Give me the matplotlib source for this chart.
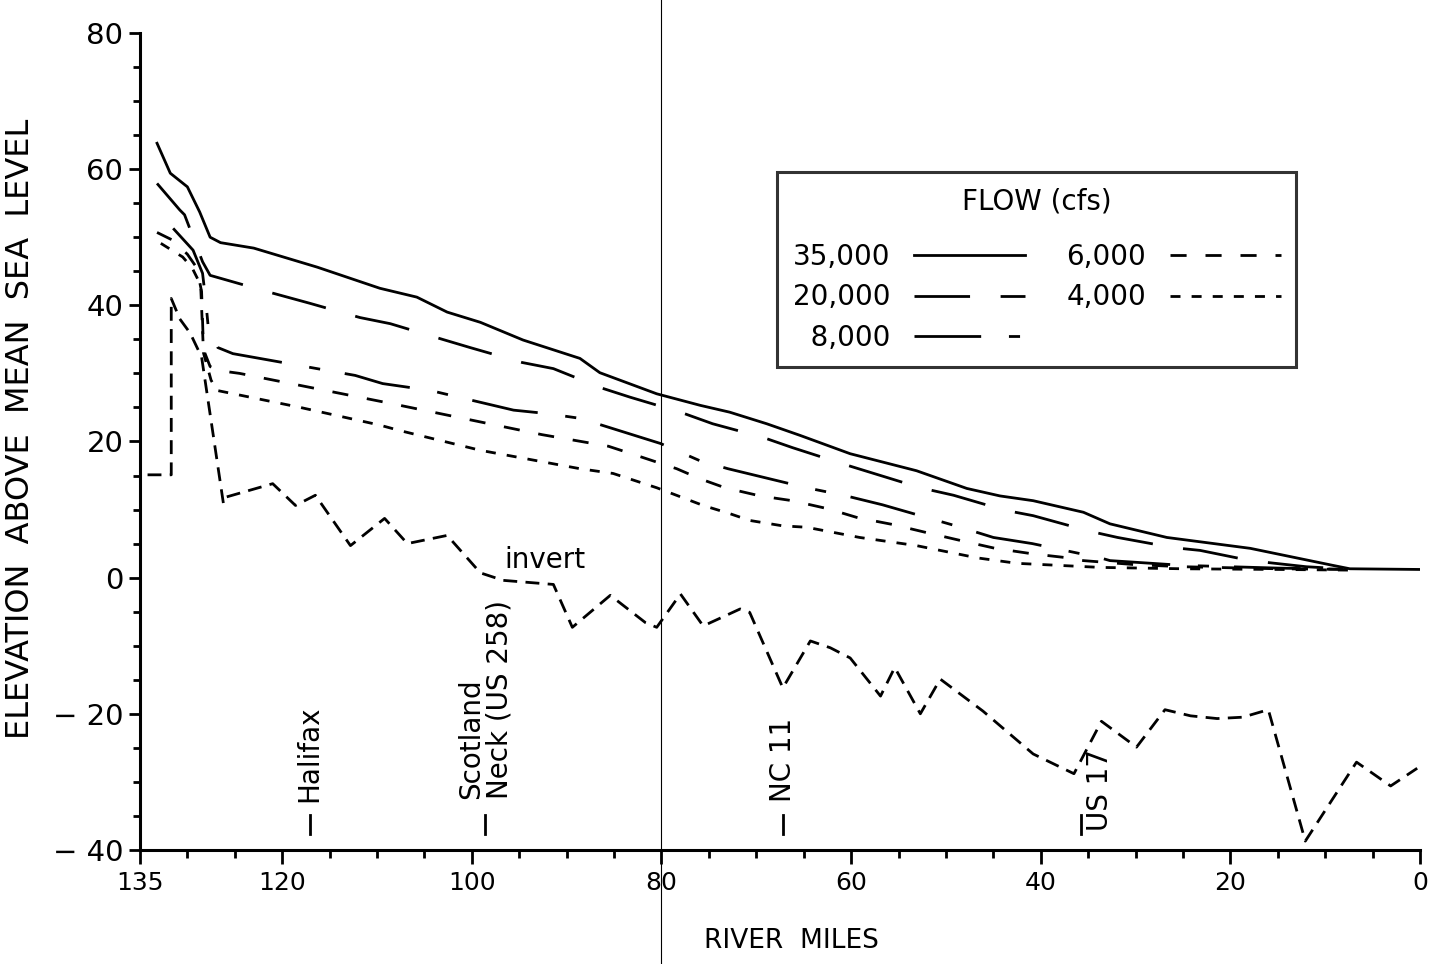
import matplotlib
matplotlib.use("Agg")
import matplotlib.pyplot as plt
from matplotlib.ticker import FixedLocator, MultipleLocator, FixedFormatter

plt.rcParams["font.family"] = ["DejaVu Sans"]

# water surface profiles, river miles vs elevation (ft above msl)
miles_35k = [133.2, 131.8, 130.0, 128.7, 127.6, 126.5, 123.0, 116.3, 109.7, 105.8, 102.6,
             99.1, 94.6, 88.6, 86.5, 80.5, 75.9, 72.8, 68.9, 65.4, 60.1, 53.1, 47.8, 44.3,
             40.8, 35.5, 32.7, 26.7, 17.9, 9.2, 7.4, 0.0]
elev_35k = [63.8, 59.4, 57.4, 53.7, 50.0, 49.2, 48.4, 45.6, 42.5, 41.2, 39.0,
            37.5, 34.9, 32.2, 30.1, 27.0, 25.3, 24.3, 22.6, 20.9, 18.2, 15.7, 13.1, 12.0,
            11.3, 9.6, 7.9, 5.9, 4.3, 1.8, 1.3, 1.2]

miles_20k = [133.2, 130.8, 130.3, 128.4, 127.6, 121.3, 117.1, 111.8, 108.6, 103.1, 100.2,
             94.7, 91.4, 86.2, 83.3, 78.0, 74.6, 69.3, 66.2, 60.4, 52.7, 49.2, 43.8, 40.8,
             34.8, 31.9, 26.0, 23.2, 17.9, 12.0, 7.0]
elev_20k = [57.9, 54.0, 53.3, 46.4, 44.4, 41.9, 40.3, 38.2, 37.3, 35.0, 33.8,
            31.6, 30.7, 27.8, 26.5, 24.3, 22.6, 20.6, 19.1, 16.5, 13.2, 12.1, 9.9, 9.1,
            6.8, 5.9, 4.4, 4.0, 2.5, 1.6, 1.2]

miles_8k = [131.5, 129.4, 128.4, 128.1, 127.8, 126.8, 125.2, 112.3, 109.4, 104.4, 95.6,
            92.1, 88.6, 80.1, 76.0, 73.0, 64.7, 60.8, 56.7, 48.7, 45.0, 40.9, 33.7, 32.7,
            25.0, 15.0, 7.0]
elev_8k = [51.3, 48.1, 44.7, 41.2, 36.8, 33.8, 32.9, 29.7, 28.5, 27.5, 24.6,
           24.1, 23.4, 19.7, 17.2, 16.0, 13.2, 12.1, 10.7, 7.5, 5.9, 5.0, 2.9, 2.5,
           1.8, 1.4, 1.2]

miles_6k = [133.2, 131.6, 130.0, 129.0, 128.5, 128.3, 127.6, 126.6, 124.5, 108.6, 92.6,
            85.6, 82.3, 78.4, 75.9, 73.3, 69.6, 66.2, 62.4, 59.3, 55.6, 52.0, 48.3, 44.8,
            40.9, 37.1, 35.5, 30.0, 25.0, 15.0, 7.0]
elev_6k = [50.7, 49.6, 47.5, 45.5, 42.0, 33.5, 31.0, 30.4, 30.0, 25.6, 21.0,
           19.3, 17.8, 16.0, 14.5, 13.2, 12.0, 11.3, 10.1, 8.8, 7.8, 6.6, 5.4, 4.3,
           3.5, 2.9, 2.5, 1.9, 1.6, 1.3, 1.2]

miles_4k = [132.8, 130.5, 129.5, 128.6, 128.3, 127.5, 126.9, 118.1, 109.7, 107.6, 99.1,
            88.6, 85.1, 80.5, 75.6, 72.8, 70.7, 67.2, 64.7, 59.1, 53.1, 46.7, 42.5, 33.7,
            25.0, 15.0, 7.0]
elev_4k = [49.1, 47.1, 45.5, 43.0, 33.0, 29.0, 27.5, 25.0, 22.4, 21.6, 18.7,
           16.0, 15.3, 13.2, 10.6, 9.4, 8.4, 7.6, 7.4, 5.9, 4.7, 2.9, 2.1, 1.5,
           1.3, 1.2, 1.1]

# channel invert
inv_miles = [134.2, 131.7, 131.7, 130.8, 129.7, 128.5, 126.2, 126.0, 121.0, 118.6, 116.5,
             112.8, 109.2, 106.8, 102.6, 99.1, 96.7, 91.4, 89.4, 85.4, 81.7, 80.5, 78.0,
             75.6, 71.7, 70.7, 67.2, 64.3, 62.2, 60.1, 56.9, 55.4, 52.7, 50.6, 46.1, 40.8,
             36.5, 33.6, 29.9, 26.9, 24.2, 21.4, 18.7, 16.0, 12.1, 6.7, 3.1, 0.3]
inv_elev = [15.1, 15.1, 41.0, 38.0, 35.9, 32.4, 10.9, 11.8, 13.8, 10.6, 12.1,
            4.7, 8.7, 5.0, 6.2, 0.7, -0.4, -1.0, -7.3, -2.6, -6.6, -7.3, -2.4,
            -7.1, -4.6, -5.1, -16.2, -9.3, -10.3, -11.8, -17.4, -13.2, -20.0, -14.9, -19.6, -25.9,
            -28.8, -21.1, -24.9, -19.4, -20.3, -20.7, -20.5, -19.4, -38.7, -27.1, -30.6, -28.0]

flow_labels = ["35,000", "20,000", "\u20078,000", "6,000", "4,000"]

x_major = [135, 120, 100, 80, 60, 40, 20, 0]
y_major = [-40, -20, 0, 20, 40, 60, 80]
y_labels = ["\u2212 40", "\u2212 20", "0", "20", "40", "60", "80"]

# bridges / towns along the river
places = ["Halifax", "Scotland\nNeck (US 258)", "NC 11", "US 17"]
place_miles = [117.1, 98.6, 67.2, 35.8]

fig = plt.figure(figsize=(14.37, 9.64), dpi=100)
ax = fig.add_axes([0.0974, 0.1183, 0.8908, 0.8475])

lw = 2.0
styles = ["-", (0, (20, 11)), (0, (24, 10, 4, 9)), (0, (5.8, 6.8)), (0, (3.6, 4))]
series = [(miles_35k, elev_35k), (miles_20k, elev_20k), (miles_8k, elev_8k),
          (miles_6k, elev_6k), (miles_4k, elev_4k)]
handles = []
for (m, e), ls, lab in zip(series, styles, flow_labels):
    h, = ax.plot(m, e, color="black", lw=lw, ls=ls, label=lab)
    handles.append(h)

ax.plot(inv_miles, inv_elev, color="black", lw=lw, ls=(0, (5, 3)))
ax.text(92.3, 0.6, "invert", fontsize=20, ha="center", va="bottom")

# thin fold line through the page at mile 80
ax.axvline(80, ymin=-0.14, ymax=1.05, color="black", lw=0.8, clip_on=False)

ax.set_xlim(135, 0)
ax.set_ylim(-40, 80)

ax.xaxis.set_major_locator(FixedLocator(x_major))
ax.xaxis.set_minor_locator(MultipleLocator(5))
ax.yaxis.set_major_locator(FixedLocator(y_major))
ax.yaxis.set_major_formatter(FixedFormatter(y_labels))
ax.yaxis.set_minor_locator(MultipleLocator(5))

for s in ["top", "right"]:
    ax.spines[s].set_visible(False)
for s in ["left", "bottom"]:
    ax.spines[s].set_linewidth(2.2)

ax.tick_params(axis="x", which="major", direction="out", length=10, width=2, labelsize=18, pad=5)
ax.tick_params(axis="x", which="minor", direction="out", length=6, width=2)
ax.tick_params(axis="y", which="major", direction="out", length=8, width=2, labelsize=21, pad=4)
ax.tick_params(axis="y", which="minor", direction="out", length=5, width=2)

ax.set_xlabel("RIVER  MILES", fontsize=19)
ax.xaxis.set_label_coords(0.509, -0.095)
ax.set_ylabel("ELEVATION  ABOVE  MEAN  SEA  LEVEL", fontsize=23)
ax.yaxis.set_label_coords(-0.081, 0.515)

# place markers: short bar with rotated name above
for name, m in zip(places, place_miles):
    ax.plot([m, m], [-34.8, -37.7], color="black", lw=2)
    if name.startswith("Scotland"):
        ax.text(m, -32.5, name, rotation=90, fontsize=20, ha="center", va="bottom",
                multialignment="left", linespacing=1.0)
    elif name == "US 17":
        ax.text(m - 2.0, -37.2, name, rotation=90, fontsize=20, ha="center", va="bottom")
    else:
        ax.text(m, -33.0, name, rotation=90, fontsize=20, ha="center", va="bottom")

leg = ax.legend(handles=handles, ncol=2, title="FLOW (cfs)", fontsize=20, title_fontsize=20,
                markerfirst=False, loc="upper left", bbox_to_anchor=(0.498, 0.83),
                frameon=True, fancybox=False, handlelength=4.0, handletextpad=0.85,
                columnspacing=1.5, labelspacing=0.45, borderpad=0.55, borderaxespad=0)
leg.get_frame().set_edgecolor("black")
leg.get_frame().set_linewidth(2.2)
# more room between the title and the entries
leg._legend_box.sep = 20

fig.savefig("out.png", dpi=100, facecolor="white")
